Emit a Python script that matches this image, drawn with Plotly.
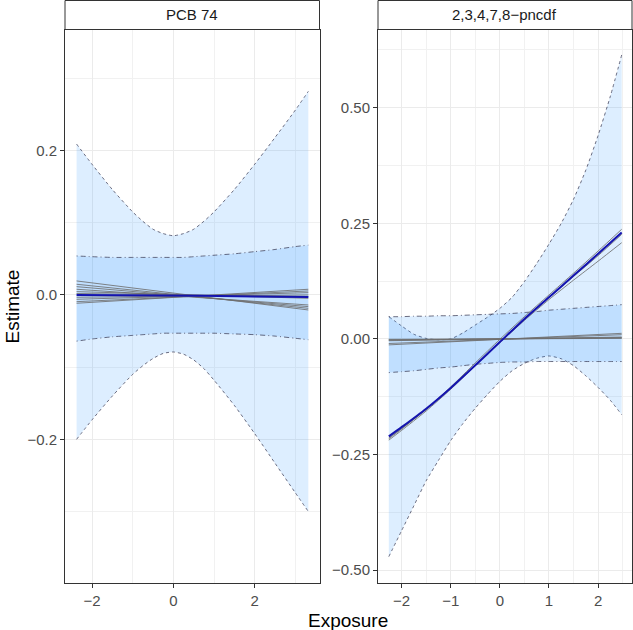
import plotly.graph_objects as go

# ---------------- data: PCB 74 (left panel) ----------------
left_x = [-2.38, -2, -1.5, -1, -0.75, -0.5, -0.25, 0, 0.25, 0.5, 0.75, 1, 1.5, 2, 2.5, 3, 3.32]
left_outer_hi = [0.209, 0.181, 0.146, 0.115, 0.102, 0.091, 0.085, 0.082, 0.085, 0.091, 0.102, 0.115, 0.146,
                 0.181, 0.218, 0.256, 0.282]
left_outer_lo = [-0.200, -0.173, -0.140, -0.110, -0.098, -0.088, -0.081, -0.079, -0.082, -0.090, -0.102, -0.118,
                 -0.153, -0.192, -0.233, -0.274, -0.300]
left_inner_hi = [0.054, 0.053, 0.052, 0.052, 0.052, 0.052, 0.052, 0.052, 0.052, 0.053, 0.054, 0.055, 0.057,
                 0.060, 0.063, 0.067, 0.069]
left_inner_lo = [-0.064, -0.061, -0.058, -0.056, -0.055, -0.054, -0.053, -0.053, -0.053, -0.053, -0.053, -0.053,
                 -0.054, -0.055, -0.057, -0.060, -0.062]

left_line_x = [-2.38, 3.32]
left_gray_start = [0.0194, 0.0148, 0.0115, 0.0079, 0.0046, 0.0020, -0.0032, -0.0060, -0.0093, -0.0115]
left_gray_end = [-0.0208, -0.0185, -0.0162, -0.0139, -0.0046, -0.0023, 0.0000, 0.0032, 0.0055, 0.0079]

left_blue_x = [-2.38, 0, 0.7, 2, 2.8, 3.32]
left_blue_y = [0.000, 0.000, -0.001, -0.002, -0.003, -0.003]

# ---------------- data: 2,3,4,7,8-pncdf (right panel) ----------------
right_x = [-2.26, -2, -1.75, -1.5, -1.25, -1, -0.75, -0.5, -0.25, 0, 0.25, 0.5, 0.75, 1,
           1.25, 1.5, 1.75, 2, 2.25, 2.48]
right_outer_hi = [0.048, 0.028, 0.010, 0.001, -0.002, 0.000, 0.013, 0.030, 0.047, 0.066, 0.090, 0.124, 0.163,
                  0.205, 0.250, 0.302, 0.365, 0.440, 0.525, 0.614]
right_outer_lo = [-0.471, -0.415, -0.361, -0.307, -0.263, -0.220, -0.183, -0.150, -0.120, -0.092, -0.069, -0.053,
                  -0.042, -0.037, -0.043, -0.058, -0.080, -0.105, -0.133, -0.164]
right_inner_hi = [0.048, 0.048, 0.049, 0.049, 0.050, 0.050, 0.051, 0.052, 0.053, 0.054, 0.055, 0.057, 0.059,
                  0.062, 0.064, 0.066, 0.068, 0.070, 0.072, 0.074]
right_inner_lo = [-0.073, -0.071, -0.069, -0.066, -0.063, -0.061, -0.058, -0.055, -0.053, -0.051, -0.050, -0.050,
                  -0.049, -0.049, -0.049, -0.049, -0.049, -0.049, -0.049, -0.049]

right_curve_x = [-2.26, -2, -1.5, -1, -0.5, 0, 0.5, 1, 1.5, 2, 2.48]
right_blue = [-0.211, -0.191, -0.151, -0.106, -0.057, -0.007, 0.043, 0.090, 0.137, 0.184, 0.230]
right_gray_a = [-0.216, -0.195, -0.152, -0.104, -0.052, -0.001, 0.048, 0.095, 0.142, 0.190, 0.237]
right_gray_b = [-0.219, -0.198, -0.156, -0.109, -0.058, -0.007, 0.042, 0.089, 0.135, 0.180, 0.226]
right_gray_c = [-0.214, -0.194, -0.153, -0.107, -0.057, -0.008, 0.040, 0.085, 0.127, 0.168, 0.208]

right_line_x = [-2.26, 2.48]
right_flat_start = [-0.001, -0.002, -0.003, -0.004, -0.010, -0.013]
right_flat_end = [0.001, 0.002, 0.003, 0.004, 0.009, 0.012]

panel_titles = ["PCB 74", "2,3,4,7,8\u2212pncdf"]

# ---------------- styles ----------------
FILL = "rgba(30,144,255,0.15)"
EDGE = "rgba(55,55,80,0.9)"
GRAY = "rgba(110,110,110,0.85)"
BLUE = "rgb(20,20,175)"
FONT = "Liberation Sans, Arial, Helvetica, sans-serif"

fig = go.Figure()


def band(x, lo, hi, dash, xa, ya):
    fig.add_trace(go.Scatter(x=x, y=lo, mode="lines", line=dict(color=EDGE, width=0.8, dash=dash, shape="spline", smoothing=0.6),
                             xaxis=xa, yaxis=ya, showlegend=False, hoverinfo="skip"))
    fig.add_trace(go.Scatter(x=x, y=hi, mode="lines", line=dict(color=EDGE, width=0.8, dash=dash, shape="spline", smoothing=0.6),
                             fill="tonexty", fillcolor=FILL,
                             xaxis=xa, yaxis=ya, showlegend=False, hoverinfo="skip"))


# left panel
band(left_x, left_outer_lo, left_outer_hi, "3px,3px", "x", "y")
band(left_x, left_inner_lo, left_inner_hi, "1px,3px,5px,3px", "x", "y")
for s, e in zip(left_gray_start, left_gray_end):
    fig.add_trace(go.Scatter(x=left_line_x, y=[s, e], mode="lines", line=dict(color=GRAY, width=1),
                             xaxis="x", yaxis="y", showlegend=False, hoverinfo="skip"))
fig.add_trace(go.Scatter(x=left_blue_x, y=left_blue_y, mode="lines", line=dict(color=BLUE, width=2),
                         xaxis="x", yaxis="y", showlegend=False))

# right panel
band(right_x, right_outer_lo, right_outer_hi, "3px,3px", "x2", "y2")
band(right_x, right_inner_lo, right_inner_hi, "1px,3px,5px,3px", "x2", "y2")
for s, e in zip(right_flat_start, right_flat_end):
    fig.add_trace(go.Scatter(x=right_line_x, y=[s, e], mode="lines", line=dict(color=GRAY, width=1),
                             xaxis="x2", yaxis="y2", showlegend=False, hoverinfo="skip"))
for g in (right_gray_a, right_gray_b, right_gray_c):
    fig.add_trace(go.Scatter(x=right_curve_x, y=g, mode="lines", line=dict(color=GRAY, width=1, shape="spline", smoothing=0.6),
                             xaxis="x2", yaxis="y2", showlegend=False, hoverinfo="skip"))
fig.add_trace(go.Scatter(x=right_curve_x, y=right_blue, mode="lines", line=dict(color=BLUE, width=2, shape="spline", smoothing=0.6),
                         xaxis="x2", yaxis="y2", showlegend=False))

W, H = 633, 630
dom_y = [(H - 583) / H, (H - 30) / H]
dom_x1 = [65 / W, 319.5 / W]
dom_x2 = [378 / W, 632 / W]

axis_common = dict(
    showline=True, linecolor="#333333", linewidth=1, mirror=True,
    ticks="outside", ticklen=4, tickwidth=1, tickcolor="#333333",
    showgrid=True, gridcolor="#ebebeb", gridwidth=1, zeroline=False,
    tickfont=dict(family=FONT, size=15, color="#4d4d4d"),
)

fig.update_layout(
    width=W, height=H, autosize=False,
    margin=dict(l=0, r=0, t=0, b=0),
    paper_bgcolor="white", plot_bgcolor="white",
    showlegend=False,
    xaxis=dict(domain=dom_x1, anchor="y", range=[-2.665, 3.595], tick0=0, dtick=2,
               minor=dict(dtick=1, tick0=0, showgrid=True, gridcolor="#f1f1f1", gridwidth=0.6, ticks=""),
               **axis_common),
    yaxis=dict(domain=dom_y, anchor="x", range=[-0.399, 0.367], tick0=0, dtick=0.2, tickformat=".1f",
               minor=dict(dtick=0.1, tick0=0, showgrid=True, gridcolor="#f1f1f1", gridwidth=0.6, ticks=""),
               **axis_common),
    xaxis2=dict(domain=dom_x2, anchor="y2", range=[-2.48, 2.69], tick0=0, dtick=1,
                minor=dict(dtick=0.5, tick0=0, showgrid=True, gridcolor="#f1f1f1", gridwidth=0.6, ticks=""),
                **axis_common),
    yaxis2=dict(domain=dom_y, anchor="x2", range=[-0.528, 0.668], tick0=0, dtick=0.25, tickformat=".2f",
                minor=dict(dtick=0.125, tick0=0, showgrid=True, gridcolor="#f1f1f1", gridwidth=0.6, ticks=""),
                **axis_common),
)

# facet strips
strip_y0 = (H - 29.5) / H
strip_y1 = (H - 0.5) / H
for dom, title in ((dom_x1, panel_titles[0]), (dom_x2, panel_titles[1])):
    fig.add_shape(type="rect", xref="paper", yref="paper", x0=dom[0], x1=dom[1], y0=strip_y0, y1=strip_y1,
                  line=dict(color="#333333", width=1), fillcolor="white", layer="above")
    fig.add_annotation(x=(dom[0] + dom[1]) / 2, y=(strip_y0 + strip_y1) / 2, xref="paper", yref="paper",
                       text=title, showarrow=False, font=dict(family=FONT, size=15, color="#1a1a1a"),
                       xanchor="center", yanchor="middle")

# axis titles
fig.add_annotation(x=(dom_x1[0] + dom_x2[1]) / 2, y=(H - 620) / H, xref="paper", yref="paper",
                   text="Exposure", showarrow=False, font=dict(family=FONT, size=19, color="black"),
                   xanchor="center", yanchor="middle")
fig.add_annotation(x=12 / W, y=(dom_y[0] + dom_y[1]) / 2, xref="paper", yref="paper",
                   text="Estimate", textangle=-90, showarrow=False,
                   font=dict(family=FONT, size=19, color="black"), xanchor="center", yanchor="middle")

fig.write_html("out.html", config={"displayModeBar": False},
               post_script="document.body.style.margin='0';document.body.style.overflow='hidden';")
